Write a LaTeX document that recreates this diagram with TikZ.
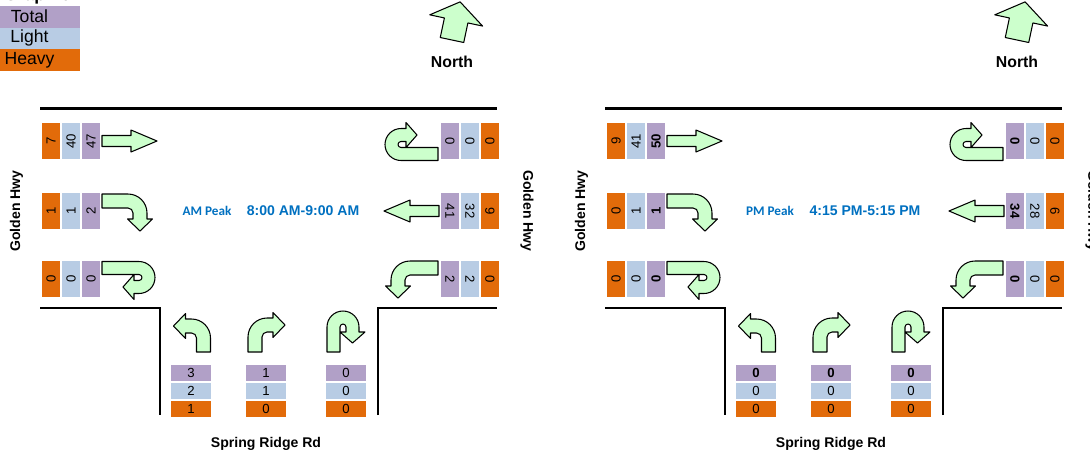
\documentclass[tikz,border=0pt]{standalone}
\usepackage{fontspec}
\setmainfont{Liberation Sans}
\newfontfamily\calibri{Carlito}
\definecolor{cTotal}{HTML}{B1A0C7}
\definecolor{cLight}{HTML}{B8CCE4}
\definecolor{cHeavy}{HTML}{E26B0A}
\definecolor{cArrow}{HTML}{CCFFCC}
\definecolor{cPeak}{HTML}{0070C0}
\begin{document}
\begin{tikzpicture}[x=0.02cm,y=0.02cm,
cell/.style={inner sep=0,font=\fontsize{7.5}{9}\selectfont},
wbox/.style={cell,minimum width=0.72cm,minimum height=0.36cm},
sbox/.style={cell,minimum width=0.8cm,minimum height=0.32cm},
hv/.style={fill=cHeavy},lt/.style={fill=cLight},tt/.style={fill=cTotal},
road/.style={line width=1.6pt},
mv/.style={draw,fill=cArrow,line width=.6pt,line join=round},
lbl/.style={font=\bfseries\fontsize{8}{10}\selectfont},
peak/.style={text=cPeak,font=\bfseries\fontsize{8}{10}\selectfont}]
\newcommand{\Through}[1]{\draw[mv,#1](-5.5,0)--(-5.5,29)--(-11,29)--(0,55)--(11,29)--(5.5,29)--(5.5,0)--cycle;}
\newcommand{\Turn}[2]{\draw[mv,#1](-7,0)--(-7,#2-12)arc(180:90:19)--++(6,0)--++(0,5.5)--++(12,-12.5)--++(-12,-12.5)--++(0,5.5)--++(-6,0)arc(90:180:5)--(7,0)--cycle;}
\newcommand{\UTurn}[2]{\draw[mv,#1](-6.5,0)--(-6.5,#2)arc(180:0:16)--++(0,-5)--++(6,0)--++(-12.5,-11)--++(-12.5,11)--++(6,0)--++(0,5)arc(0:180:3)--(6.5,0)--cycle;}
\newcommand{\WestBoxes}[5]{\node[wbox,hv,rotate=90](#1h)at(51,#2){#3};\node[wbox,lt,rotate=90](#1l)at(71,#2){#4};\node[wbox,tt,rotate=90](#1t)at(91,#2){#5};}
\newcommand{\EastBoxes}[5]{\node[wbox,tt,rotate=-90](#1t)at(450,#2){#3};\node[wbox,lt,rotate=-90](#1l)at(470,#2){#4};\node[wbox,hv,rotate=-90](#1h)at(490,#2){#5};}
\newcommand{\SouthBoxes}[5]{\node[sbox,tt](#1t)at(#2,-373){#3};\node[sbox,lt](#1l)at(#2,-391){#4};\node[sbox,hv](#1h)at(#2,-408.5){#5};}
\newcommand{\Panel}[1]{%
\draw[road](40,-108.5)--(497,-108.5);
\draw[road](40,-308)--(160,-308)--(160,-415);
\draw[road](378,-415)--(378,-308)--(497,-308);
\draw[mv,shift={(452,-40)},rotate=-12](-12,0)--(-12,20)--(-27,20)--(0,39)--(27,20)--(12,20)--(12,0)--cycle;
\node[lbl,font=\bfseries\fontsize{9}{11}\selectfont](#1north)at(452,-62){North};
\node[lbl,rotate=90](#1west)at(16.5,-211){Golden Hwy};
\node[lbl,rotate=-90](#1east)at(527,-211){Golden Hwy};
\node[lbl](#1south)at(266,-444){Spring Ridge Rd};
\Through{shift={(102,-141)},rotate=-90}
\Turn{shift={(102,-201)},rotate=-90}{38}
\UTurn{shift={(102,-268)},rotate=-90}{37}
\UTurn{shift={(438,-154)},rotate=90}{37}
\Through{shift={(439,-211)},rotate=90}
\Turn{shift={(438,-268)},rotate=90,xscale=-1}{40}
\Turn{shift={(203.5,-352)},xscale=-1}{26}
\Turn{shift={(255,-352)}}{27}
\UTurn{shift={(333.5,-352)}}{25}}
\useasboundingbox (0,0) rectangle (1090,-451);
% legend
\node[anchor=base west,font=\bfseries\fontsize{10}{12}\selectfont](graphic)at(-2,0){\underline{Graphic}};
\fill[cTotal](0,-6)rectangle(80,-27.5);
\fill[cLight](0,-27.5)rectangle(80,-49);
\fill[cHeavy](0,-49)rectangle(80,-71);
\node[font=\fontsize{10}{12}\selectfont](legT)at(29.5,-16.5){Total};
\node[font=\fontsize{10}{12}\selectfont](legL)at(29.5,-38){Light};
\node[font=\fontsize{10}{12}\selectfont](legH)at(29.5,-60){Heavy};
% AM peak
\begin{scope}
\Panel{am}
\node[peak,font=\calibri\bfseries\fontsize{7.5}{9}\selectfont](amPeak)at(207,-211){AM Peak};
\node[peak](amTime)at(303,-211){8:00 AM-9:00 AM};
\WestBoxes{amW1}{-141}{7}{40}{47}
\WestBoxes{amW2}{-211}{1}{1}{2}
\WestBoxes{amW3}{-279}{0}{0}{0}
\EastBoxes{amE1}{-141}{0}{0}{0}
\EastBoxes{amE2}{-211}{41}{32}{9}
\EastBoxes{amE3}{-279}{2}{2}{0}
\SouthBoxes{amS1}{191}{3}{2}{1}
\SouthBoxes{amS2}{266}{1}{1}{0}
\SouthBoxes{amS3}{346}{0}{0}{0}
\end{scope}
% PM peak
\begin{scope}[shift={(565,0)},tt/.append style={font=\bfseries\fontsize{7.5}{9}\selectfont}]
\Panel{pm}
\node[peak,font=\calibri\bfseries\fontsize{7.5}{9}\selectfont](pmPeak)at(205,-211){PM Peak};
\node[peak](pmTime)at(300,-211){4:15 PM-5:15 PM};
\WestBoxes{pmW1}{-141}{9}{41}{50}
\WestBoxes{pmW2}{-211}{0}{1}{1}
\WestBoxes{pmW3}{-279}{0}{0}{0}
\EastBoxes{pmE1}{-141}{0}{0}{0}
\EastBoxes{pmE2}{-211}{34}{28}{6}
\EastBoxes{pmE3}{-279}{0}{0}{0}
\SouthBoxes{pmS1}{191}{0}{0}{0}
\SouthBoxes{pmS2}{266}{0}{0}{0}
\SouthBoxes{pmS3}{346}{0}{0}{0}
\end{scope}
\end{tikzpicture}
\end{document}
